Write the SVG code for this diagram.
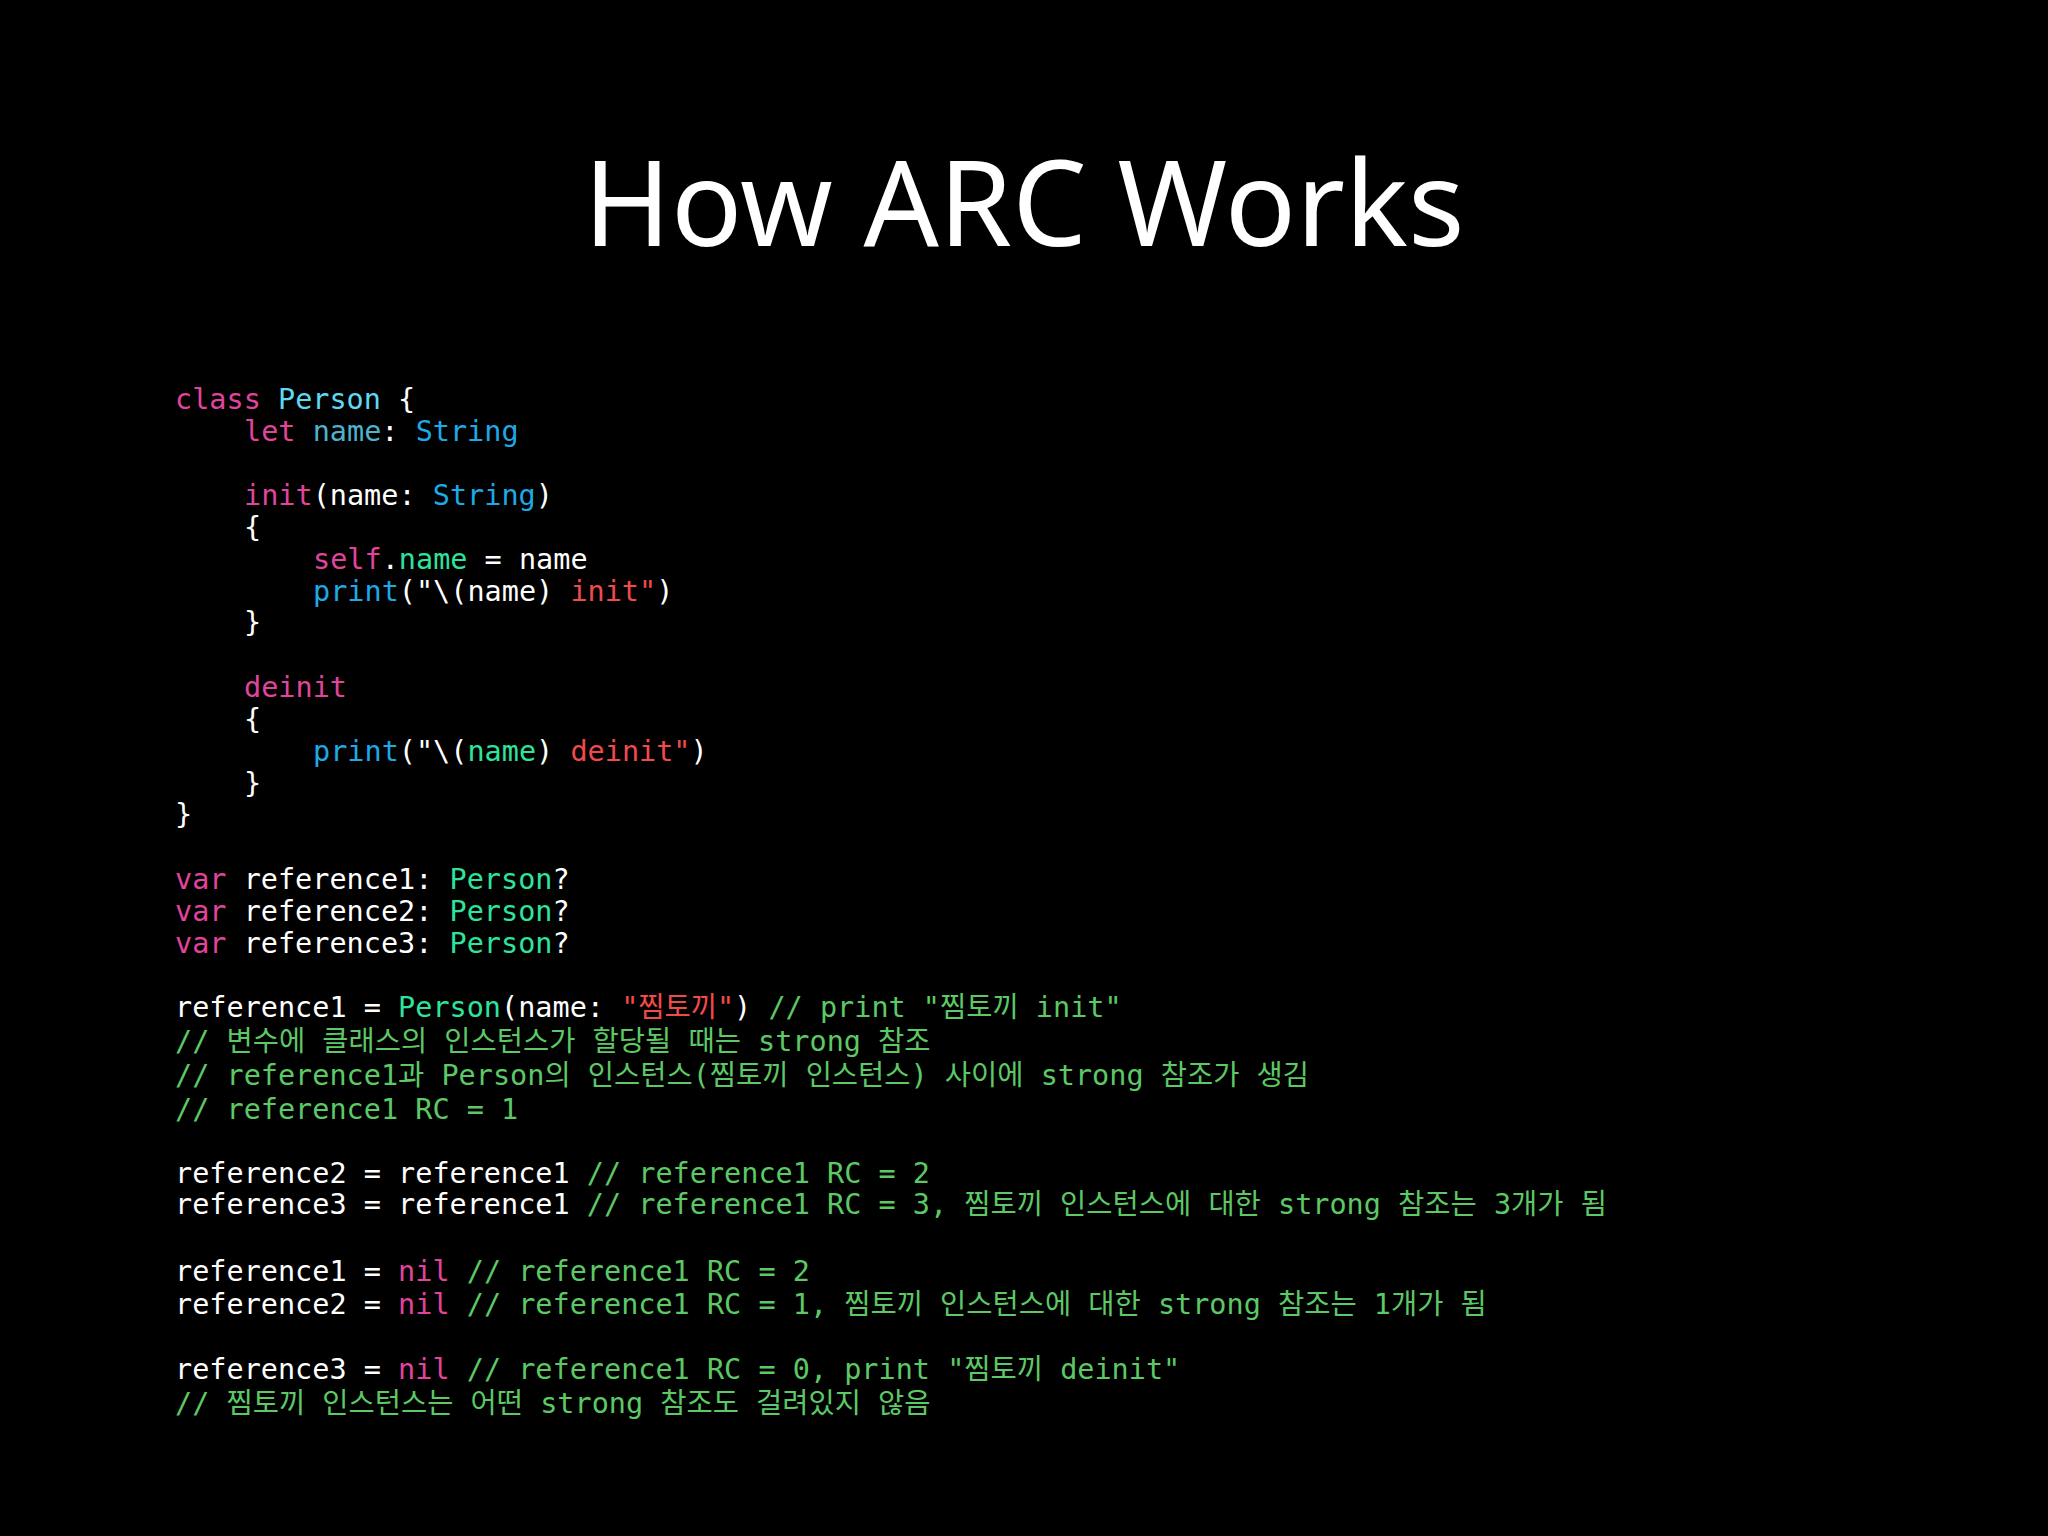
<svg xmlns="http://www.w3.org/2000/svg" width="2048" height="1536" viewBox="0 0 2048 1536">
<style>
.c{font-family:"DejaVu Sans Mono","Noto Sans CJK KR",monospace;font-size:28.5px;fill:#ffffff;white-space:pre}
.k{fill:#e0449c}.t{fill:#5fd8f2}.p{fill:#4fb2cc}.s{fill:#1ea9e6}.g{fill:#2fe39c}.r{fill:#f04a4a}.m{fill:#5cc866}
</style>
<rect width="2048" height="1536" fill="#000"/>
<text x="1024" y="246" text-anchor="middle" font-family="Noto Sans, sans-serif" font-size="118" fill="#fff">How ARC Works</text>
<g id="code" class="c" xml:space="preserve">
<text x="175" y="409"><tspan class="k">class</tspan> <tspan class="t">Person</tspan> {</text>
<text x="244" y="441"><tspan class="k">let</tspan> <tspan class="p">name</tspan>: <tspan class="s">String</tspan></text>
<text x="244" y="505"><tspan class="k">init</tspan>(name: <tspan class="s">String</tspan>)</text>
<text x="244" y="537">{</text>
<text x="313" y="569"><tspan class="k">self</tspan>.<tspan class="g">name</tspan> = name</text>
<text x="313" y="601"><tspan class="s">print</tspan>("\(name) <tspan class="r">init"</tspan>)</text>
<text x="244" y="632">}</text>
<text x="244" y="697"><tspan class="k">deinit</tspan></text>
<text x="244" y="729">{</text>
<text x="313" y="761"><tspan class="s">print</tspan>("\(<tspan class="g">name</tspan>) <tspan class="r">deinit"</tspan>)</text>
<text x="244" y="793">}</text>
<text x="175" y="824">}</text>
<text x="175" y="889"><tspan class="k">var</tspan> reference1: <tspan class="g">Person</tspan>?</text>
<text x="175" y="921"><tspan class="k">var</tspan> reference2: <tspan class="g">Person</tspan>?</text>
<text x="175" y="953"><tspan class="k">var</tspan> reference3: <tspan class="g">Person</tspan>?</text>
<text x="175" y="1017">reference1 = <tspan class="g">Person</tspan>(name: <tspan class="r">"찜토끼"</tspan>) <tspan class="m">// print "찜토끼 init"</tspan></text>
<text x="175" y="1051" class="m">// 변수에 클래스의 인스턴스가 할당될 때는 strong 참조</text>
<text x="175" y="1085" class="m">// reference1과 Person의 인스턴스(찜토끼 인스턴스) 사이에 strong 참조가 생김</text>
<text x="175" y="1119" class="m">// reference1 RC = 1</text>
<text x="175" y="1183">reference2 = reference1 <tspan class="m">// reference1 RC = 2</tspan></text>
<text x="175" y="1214">reference3 = reference1 <tspan class="m">// reference1 RC = 3, 찜토끼 인스턴스에 대한 strong 참조는 3개가 됨</tspan></text>
<text x="175" y="1281">reference1 = <tspan class="k">nil</tspan> <tspan class="m">// reference1 RC = 2</tspan></text>
<text x="175" y="1314">reference2 = <tspan class="k">nil</tspan> <tspan class="m">// reference1 RC = 1, 찜토끼 인스턴스에 대한 strong 참조는 1개가 됨</tspan></text>
<text x="175" y="1379">reference3 = <tspan class="k">nil</tspan> <tspan class="m">// reference1 RC = 0, print "찜토끼 deinit"</tspan></text>
<text x="175" y="1413" class="m">// 찜토끼 인스턴스는 어떤 strong 참조도 걸려있지 않음</text>
</g>
</svg>
